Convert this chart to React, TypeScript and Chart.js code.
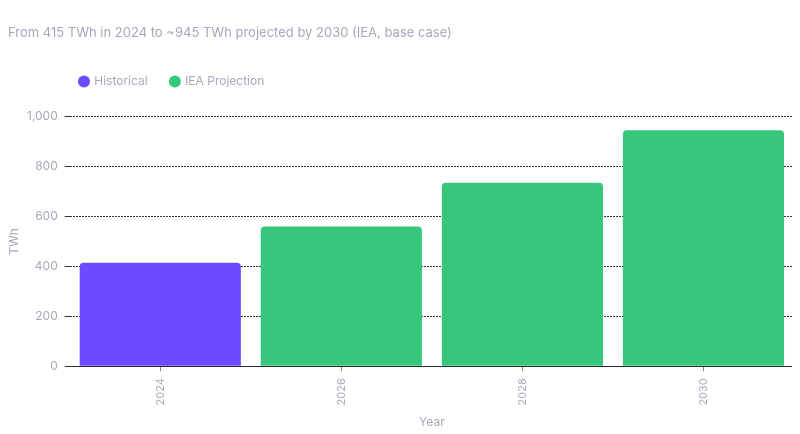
import { useEffect, useRef } from "react"
import { Chart, registerables } from "chart.js"

Chart.register(...registerables)

const years = ["2024", "2026", "2028", "2030"]
const historical = [415, null, null, null]
const projection = [null, 560, 735, 945]
const yTicks = [0, 200, 400, 600, 800, 1000]

const labelColor = "#a9a7b9"
const font = "Inter, 'Noto Sans', sans-serif"
const legendPadding = 23

// legend items start at left + padding; keep the first one 10px inside the plot
const legendShift = {
  id: "legendShift",
  afterLayout(chart: any) {
    if (!chart.legend) return
    chart.legend.left -= legendPadding - 10
    chart.legend.right -= legendPadding - 10
  },
}

export default function App() {
  const canvasRef = useRef<HTMLCanvasElement>(null)

  useEffect(() => {
    if (!canvasRef.current) return
    const chart = new Chart(canvasRef.current, {
      type: "bar",
      data: {
        labels: years,
        datasets: [
          { label: "Historical", data: historical, backgroundColor: "#6c4bff" },
          { label: "IEA Projection", data: projection, backgroundColor: "#36c77c" },
        ],
      },
      options: {
        animation: false,
        responsive: true,
        maintainAspectRatio: false,
        datasets: {
          bar: {
            grouped: false,
            categoryPercentage: 1,
            barPercentage: 0.89,
            borderRadius: 4,
          },
        },
        layout: { padding: { left: 8, right: 6 } },
        plugins: {
          title: {
            display: true,
            text: "From 415 TWh in 2024 to ~945 TWh projected by 2030 (IEA, base case)",
            align: "start",
            color: labelColor,
            font: { family: font, size: 13, weight: "normal" },
            padding: { top: 17, bottom: 12 },
          },
          // empty spacer between the legend and the plot
          subtitle: {
            display: true,
            text: "",
            weight: 500,
            fullSize: false,
            font: { size: 1, lineHeight: 1 },
            padding: { top: 0, bottom: 18 },
          },
          legend: {
            position: "top",
            align: "start",
            fullSize: false,
            labels: {
              usePointStyle: true,
              pointStyle: "circle",
              boxWidth: 8.5,
              boxHeight: 8.5,
              color: labelColor,
              font: { family: font, size: 12 },
              padding: legendPadding,
            },
          },
          tooltip: { enabled: false },
        },
        scales: {
          x: {
            title: {
              display: true,
              text: "Year",
              color: labelColor,
              font: { family: font, size: 12 },
              padding: { top: 3, bottom: 4 },
            },
            grid: { drawOnChartArea: false, offset: false, tickLength: 5, color: "#8f8d9c" },
            border: { display: true, color: "#2b2b33" },
            ticks: {
              color: labelColor,
              font: { family: font, size: 11 },
              minRotation: 90,
              maxRotation: 90,
              padding: 7,
            },
          },
          y: {
            min: 0,
            max: 1000,
            afterBuildTicks: (axis) => {
              axis.ticks = yTicks.map((value) => ({ value }))
            },
            title: {
              display: true,
              text: "TWh",
              color: labelColor,
              font: { family: font, size: 12, lineHeight: 1 },
              padding: { top: 0, bottom: 0 },
            },
            grid: { color: "#33333b", tickLength: 5, tickBorderDash: [] },
            border: { display: false, dash: [2, 1] },
            ticks: {
              color: labelColor,
              font: { family: font, size: 12 },
              padding: 7,
            },
          },
        },
      },
      plugins: [legendShift],
    })
    return () => chart.destroy()
  }, [])

  return (
    <div style={{ position: "relative", width: 800, height: 426, marginLeft: -8, marginBottom: -8 }}>
      <canvas ref={canvasRef} />
    </div>
  )
}
